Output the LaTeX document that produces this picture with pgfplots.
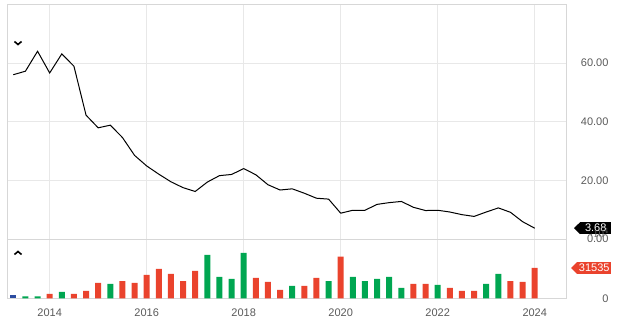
\documentclass[border=0pt]{standalone}
\usepackage{pgfplots}
\pgfplotsset{compat=1.18}
\usepackage{fontspec}
\setmainfont{Liberation Sans}
\definecolor{gridc}{RGB}{232,232,232}
\definecolor{bordc}{RGB}{215,215,215}
\definecolor{labc}{RGB}{90,90,90}
\definecolor{upg}{RGB}{0,166,81}
\definecolor{dnr}{RGB}{234,67,45}
\definecolor{blu}{RGB}{43,76,160}
\begin{document}
\begin{tikzpicture}[x=1pt,y=1pt]
\useasboundingbox (0pt,0pt) rectangle (623pt,319pt);
\begin{axis}[at={(7pt,80pt)}, anchor=south west, scale only axis,
  width=559pt, height=234.7pt,
  xmin=2013.12, xmax=2024.645, ymin=0, ymax=80,
  xtick={2014,2016,...,2024}, xticklabels={},
  ytick={0,20,40,60},
  yticklabel pos=right,
  /pgf/number format/assume math mode=true,
  yticklabel={\pgfmathprintnumber[fixed,fixed zerofill,precision=2]{\tick}},
  yticklabel style={anchor=east, xshift=46pt, font=\fontsize{11}{13}\selectfont, text=labc},
  major tick length=0pt,
  grid=major, major grid style={gridc, line width=0.8pt},
  axis line style={draw=bordc, line width=0.8pt},
  clip=false]
\addplot[black, line width=1pt, mark=none] coordinates {
(2013.25,56.0) (2013.5,57.2) (2013.75,64.0) (2014.0,56.6) (2014.25,63.1) (2014.5,58.9)
(2014.75,42.2) (2015.0,37.9) (2015.25,38.8) (2015.5,34.6) (2015.75,28.5) (2016.0,24.9)
(2016.25,22.1) (2016.5,19.5) (2016.75,17.5) (2017.0,16.2) (2017.25,19.4) (2017.5,21.6)
(2017.75,22.0) (2018.0,24.0) (2018.25,21.9) (2018.5,18.5) (2018.75,16.7) (2019.0,17.1)
(2019.25,15.6) (2019.5,13.9) (2019.75,13.6) (2020.0,8.8) (2020.25,9.8) (2020.5,9.8)
(2020.75,11.8) (2021.0,12.4) (2021.25,12.8) (2021.5,10.8) (2021.75,9.7) (2022.0,9.8)
(2022.25,9.2) (2022.5,8.3) (2022.75,7.7) (2023.0,9.2) (2023.25,10.6) (2023.5,9.1)
(2023.75,5.9) (2024.0,3.68)};
\coordinate (lastp) at (axis cs:2024.645,3.68);
\end{axis}
\node[fill=black, text=white, anchor=west, minimum width=31pt, minimum height=11.5pt, inner sep=0pt, font=\fontsize{11}{13}\selectfont] (tg1) at ([xshift=14pt]lastp) {3.68};
\fill[black] (tg1.north west) -- ([xshift=-6pt]tg1.west) -- (tg1.south west) -- cycle;
\draw[line width=1.6pt] (14.5pt,277.5pt) -- (18pt,274.5pt) -- (21.5pt,277.5pt);

\begin{axis}[at={(7pt,20.7pt)}, anchor=south west, scale only axis,
  width=559pt, height=59.3pt,
  xmin=2013.12, xmax=2024.645, ymin=0, ymax=61700,
  xtick={2014,2016,...,2024},
  xticklabel style={font=\fontsize{11}{13}\selectfont, text=labc, yshift=-7pt},
  /pgf/number format/assume math mode=true,
  xticklabel={\pgfmathprintnumber[1000 sep={}]{\tick}},
  ytick={0}, yticklabel pos=right,
  yticklabel style={anchor=east, xshift=46pt, font=\fontsize{11}{13}\selectfont, text=labc},
  major tick length=0pt,
  xmajorgrids, major grid style={gridc, line width=0.8pt},
  x axis line style={draw=none},
  y axis line style={draw=bordc, line width=0.8pt},
  ybar, bar width=6pt, bar shift=0pt,
  clip=false]
\addplot[fill=blu, draw=none] coordinates {(2013.25,3100)};
\addplot[fill=upg, draw=none] coordinates {
(2013.5,2100) (2013.75,2100) (2014.25,6600) (2015.25,14900) (2017.25,45100) (2017.5,22200)
(2017.75,20100) (2018.0,47200) (2019.0,12800) (2019.75,18000) (2020.25,22200) (2020.5,18000)
(2020.75,20100) (2021.0,22200) (2021.25,10800) (2022.0,13900) (2023.0,14900) (2023.25,25300)};
\addplot[fill=dnr, draw=none] coordinates {
(2014.0,4500) (2014.5,4500) (2014.75,7600) (2015.0,16000) (2015.5,18000) (2015.75,16000)
(2016.0,24300) (2016.25,30500) (2016.5,25300) (2016.75,18000) (2017.0,28500) (2018.25,21200)
(2018.5,17000) (2018.75,8700) (2019.25,12800) (2019.5,21200) (2020.0,43400) (2021.5,14900)
(2021.75,14900) (2022.25,10800) (2022.5,7600) (2022.75,7600) (2023.5,18000) (2023.75,17000)
(2024.0,31535)};
\coordinate (lastv) at (axis cs:2024.645,31535);
\end{axis}
\node[fill=dnr, text=white, anchor=west, minimum width=34pt, minimum height=11.5pt, inner sep=0pt, font=\fontsize{11}{13}\selectfont] (tg2) at ([xshift=11pt]lastv) {31535};
\fill[dnr] (tg2.north west) -- ([xshift=-6pt]tg2.west) -- (tg2.south west) -- cycle;
\draw[line width=1.6pt] (14.5pt,64.5pt) -- (18pt,67.5pt) -- (21.5pt,64.5pt);
\end{tikzpicture}
\end{document}
